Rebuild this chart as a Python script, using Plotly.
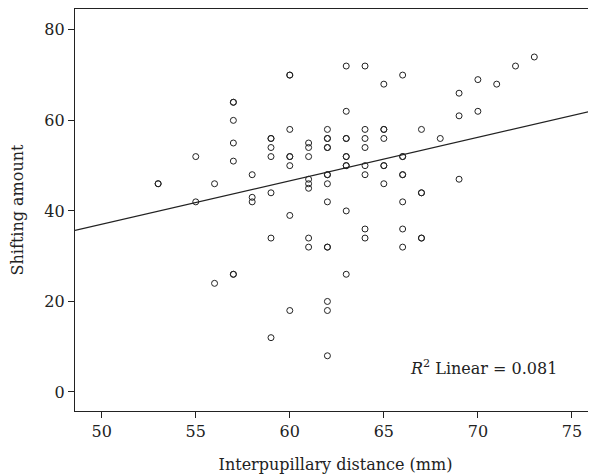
import numpy as np
import plotly.graph_objects as go

# Interpupillary distance (mm) per point
ipd = (
    [53, 53] + [55, 55] + [56, 56] + [57] * 7 + [58] * 3 + [59] * 7 + [60] * 8 + [61] * 8
    + [62] * 14 + [63] * 10 + [64] * 8 + [65] * 7 + [66] * 8 + [67] * 5 + [68] + [69] * 3
    + [70] * 2 + [71] + [72] + [73]
)
# Shifting amount per point
shift = (
    [46, 46]
    + [52, 42]
    + [46, 24]
    + [64, 64, 60, 55, 51, 26, 26]
    + [48, 43, 42]
    + [56, 56, 54, 52, 44, 34, 12]
    + [70, 70, 58, 52, 52, 50, 39, 18]
    + [55, 54, 52, 47, 46, 45, 34, 32]
    + [58, 56, 56, 54, 54, 48, 48, 46, 42, 32, 32, 20, 18, 8]
    + [72, 62, 56, 56, 52, 52, 50, 50, 40, 26]
    + [72, 58, 56, 54, 50, 48, 36, 34]
    + [68, 58, 58, 56, 50, 50, 46]
    + [70, 52, 52, 48, 48, 42, 36, 32]
    + [58, 44, 44, 34, 34]
    + [56]
    + [66, 61, 47]
    + [69, 62]
    + [68]
    + [72]
    + [74]
)
x_ticks = [50, 55, 60, 65, 70, 75]
y_ticks = [0, 20, 40, 60, 80]
x_range = [48.58, 76.28]
y_range = [-4.2, 84.6]

# Linear fit line (R^2 = 0.081)
fit_slope = 0.96
fit_intercept = -10.95
fit_x = np.array(x_range)
fit_y = fit_slope * fit_x + fit_intercept

font_family = "DejaVu Serif"
ink = "#222222"

fig = go.Figure()
fig.add_trace(go.Scatter(
    x=fit_x, y=fit_y, mode="lines",
    line=dict(color=ink, width=1.2), hoverinfo="skip", showlegend=False,
))
fig.add_trace(go.Scatter(
    x=ipd, y=shift, mode="markers",
    marker=dict(symbol="circle-open", size=6, color=ink, line=dict(width=1, color=ink)),
    showlegend=False,
))

fig.add_annotation(
    x=66.3, y=5.3, xref="x", yref="y", xanchor="left", yanchor="middle",
    text="<i>R</i><sup>2</sup> Linear = 0.081", showarrow=False,
    font=dict(family=font_family, size=16, color=ink),
)

fig.update_layout(
    width=588, height=468,
    margin=dict(l=67, r=0, t=1, b=65),
    paper_bgcolor="white", plot_bgcolor="white",
    font=dict(family=font_family, size=16, color=ink),
    xaxis=dict(
        range=x_range, tickvals=x_ticks, ticks="outside", ticklen=6, tickcolor=ink,
        showline=True, linecolor=ink, linewidth=1.2, mirror=True, showgrid=False, zeroline=False,
        title=dict(text="Interpupillary distance (mm)", font=dict(size=16), standoff=18),
    ),
    yaxis=dict(
        range=y_range, tickvals=y_ticks, ticks="outside", ticklen=6, tickcolor=ink,
        showline=True, linecolor=ink, linewidth=1.2, showgrid=False, zeroline=False,
        title=dict(text="Shifting amount", font=dict(size=16), standoff=16),
    ),
)

fig.write_html("out.html")
